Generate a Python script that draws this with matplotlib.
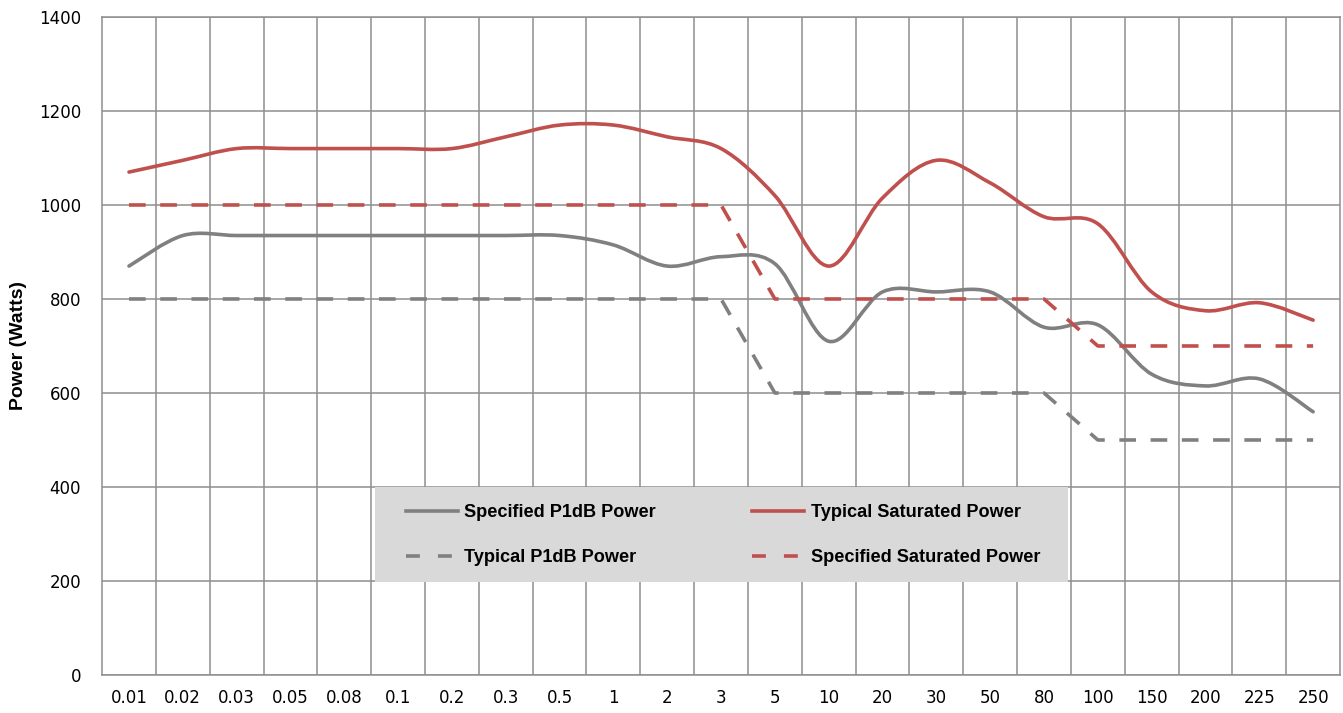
import matplotlib
matplotlib.use("Agg")
import matplotlib.pyplot as plt
from matplotlib.path import Path
from matplotlib.patches import PathPatch, Rectangle
from matplotlib.lines import Line2D

# Frequency bands (category axis) and power levels in watts
freqs = ["0.01", "0.02", "0.03", "0.05", "0.08", "0.1", "0.2", "0.3", "0.5", "1",
         "2", "3", "5", "10", "20", "30", "50", "80", "100", "150", "200", "225", "250"]
spec_p1db = [870, 935, 935, 935, 935, 935, 935, 935, 935, 915,
             870, 890, 875, 710, 815, 815, 815, 740, 745, 640, 615, 630, 560]
typ_p1db = [800, 800, 800, 800, 800, 800, 800, 800, 800, 800,
            800, 800, 600, 600, 600, 600, 600, 600, 500, 500, 500, 500, 500]
typ_sat = [1070, 1095, 1120, 1120, 1120, 1120, 1120, 1145, 1170, 1170,
           1145, 1120, 1020, 870, 1015, 1095, 1047, 975, 960, 815, 775, 792, 755]
spec_sat = [1000, 1000, 1000, 1000, 1000, 1000, 1000, 1000, 1000, 1000,
            1000, 1000, 800, 800, 800, 800, 800, 800, 700, 700, 700, 700, 700]

RED = "#c0504d"
GRAY = "#808080"
GRID = "#8e8e8e"
LW = 2.6
DASH = (12, 10.5)
plt.rcParams["lines.scale_dashes"] = False
label_font = ["Liberation Sans", "DejaVu Sans"]


def smooth_path(xs, ys):
    # Excel-style smoothed line: cubic Bezier, control points at 1/6 of neighbour span
    pts = list(zip(xs, ys))
    n = len(pts)
    verts = [pts[0]]
    codes = [Path.MOVETO]
    for i in range(n - 1):
        p0 = pts[i - 1] if i > 0 else pts[i]
        p1 = pts[i]
        p2 = pts[i + 1]
        p3 = pts[i + 2] if i + 2 < n else pts[i + 1]
        c1 = (p1[0] + (p2[0] - p0[0]) / 6, p1[1] + (p2[1] - p0[1]) / 6)
        c2 = (p2[0] - (p3[0] - p1[0]) / 6, p2[1] - (p3[1] - p1[1]) / 6)
        verts += [c1, c2, p2]
        codes += [Path.CURVE4] * 3
    return Path(verts, codes)


fig = plt.figure(figsize=(13.43, 7.13), dpi=100)
ax = fig.add_axes([0.0760, 0.0533, 0.9218, 0.9229])

x = list(range(len(freqs)))
ax.add_patch(PathPatch(smooth_path(x, spec_p1db), fill=False, edgecolor=GRAY, lw=LW,
                       capstyle="round", zorder=3))
ax.add_patch(PathPatch(smooth_path(x, typ_sat), fill=False, edgecolor=RED, lw=LW,
                       capstyle="round", zorder=3))
ax.plot(x, typ_p1db, color=GRAY, lw=LW, dashes=DASH, dash_capstyle="butt", zorder=3)
ax.plot(x, spec_sat, color=RED, lw=LW, dashes=DASH, dash_capstyle="butt", zorder=3)

ax.set_xlim(-0.5, len(freqs) - 0.5)
ax.set_ylim(0, 1400)
ax.set_xticks(x)
ax.set_xticklabels(freqs)
ax.set_yticks(range(0, 1401, 200))
ax.set_xticks([i + 0.5 for i in range(len(freqs) - 1)], minor=True)
ax.tick_params(axis="both", which="both", length=0, labelsize=12, colors="black")
ax.tick_params(axis="x", pad=10)
ax.tick_params(axis="y", pad=15)
ax.grid(True, axis="y", which="major", color=GRID, lw=1.1)
ax.grid(True, axis="x", which="minor", color=GRID, lw=1.1)
ax.set_axisbelow(True)
for s in ax.spines.values():
    s.set_color(GRID)
    s.set_linewidth(1.1)

ax.set_ylabel("Power (Watts)", fontsize=14, fontweight="bold", family=label_font)
ax.yaxis.set_label_coords(-0.0606, 0.5)

# grey legend background
ax.add_patch(Rectangle((0.2205, 0.1413), 0.5598, 0.1444, transform=ax.transAxes,
                       facecolor="#d9d9d9", edgecolor="none", zorder=4))

handles = [
    Line2D([], [], color=GRAY, lw=LW),
    Line2D([], [], color=GRAY, lw=LW, dashes=(10, 13), dash_capstyle="butt"),
    Line2D([], [], color=RED, lw=LW),
    Line2D([], [], color=RED, lw=LW, dashes=(10, 13), dash_capstyle="butt"),
]
labels = ["Specified P1dB Power", "Typical P1dB Power",
          "Typical Saturated Power", "Specified Saturated Power"]
leg = ax.legend(handles, labels, ncol=2, loc="center",
                bbox_to_anchor=(0.5016, 0.2128),
                prop={"family": label_font, "weight": "bold", "size": 13.1},
                handlelength=2.86, handletextpad=0.35, columnspacing=5.3,
                labelspacing=1.53, borderpad=0, borderaxespad=0, frameon=False)
leg.set_zorder(5)

fig.savefig("out.png", dpi=100)
